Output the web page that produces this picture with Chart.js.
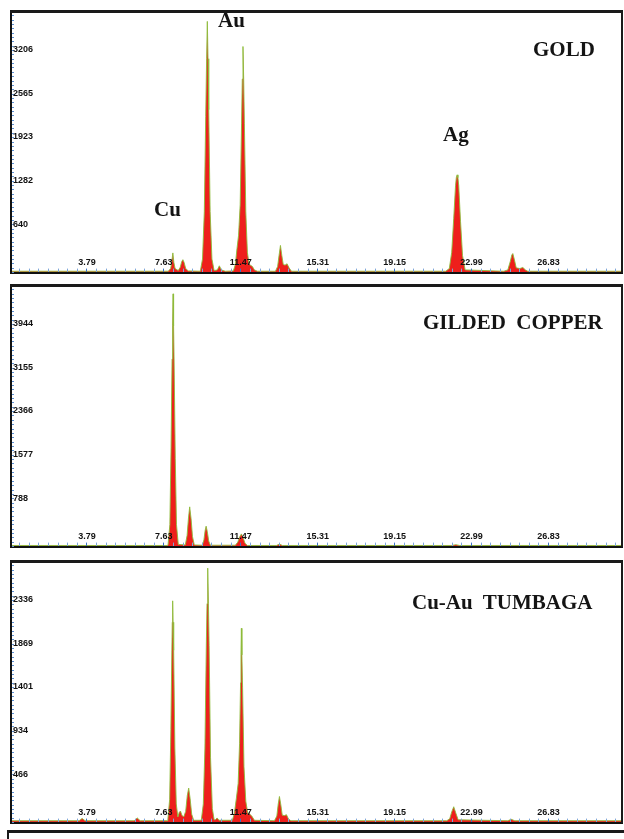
<!DOCTYPE html>
<html>
<head>
<meta charset="utf-8">
<script src="https://cdn.jsdelivr.net/npm/chart.js@4.4.1/dist/chart.umd.min.js"></script>
<style>
  body { margin: 0; background: #fff; width: 624px; height: 839px; overflow: hidden; position: relative; }
  canvas { position: absolute; left: 0; }
  .lbl { position: absolute; font-family: 'Liberation Serif', 'Times New Roman', serif; font-weight: bold;
         font-size: 21px; line-height: 1; color: #141414; white-space: pre; }
  #next { position: absolute; left: 7px; top: 830px; width: 640px; height: 20px;
          border-top: 3px solid #1a1a1a; border-left: 2px solid #1a1a1a; }
</style>
</head>
<body>
<canvas id="gold" width="624" height="276" style="top:4px"></canvas>
<canvas id="gilded" width="624" height="276" style="top:278px"></canvas>
<canvas id="tumbaga" width="624" height="276" style="top:554px"></canvas>
<div id="next"></div>

<div class="lbl" style="left:218px; top:10px">Au</div>
<div class="lbl" style="left:154px; top:199px">Cu</div>
<div class="lbl" style="left:443px; top:124px">Ag</div>
<div class="lbl" style="left:533px; top:39px">GOLD</div>
<div class="lbl" style="left:423px; top:312px">GILDED  COPPER</div>
<div class="lbl" style="left:412px; top:592px">Cu-Au  TUMBAGA</div>

<script>
'use strict';

// energy axis (keV) and count labels as printed on the spectra
const xTickLabels = ['3.79', '7.63', '11.47', '15.31', '19.15', '22.99', '26.83'];
const X_MAX = 30.5;

const goldYLabels = ['640', '1282', '1923', '2565', '3206'];
const gildedYLabels = ['788', '1577', '2366', '3155', '3944'];
const tumbagaYLabels = ['466', '934', '1401', '1869', '2336'];

// [energy, counts]
const goldSpectrum = [
    [0, 20], [7.7, 20],
    [7.85, 20], [7.97, 60], [8.02, 150], [8.08, 290], [8.13, 150], [8.19, 60],
    [8.35, 30], [8.45, 80], [8.52, 160], [8.58, 190], [8.64, 150], [8.72, 60], [8.85, 25],
    [9.45, 20], [9.56, 200], [9.65, 900], [9.72, 2300], [9.765, 3150], [9.8, 3700], [9.835, 3150], [9.87, 2400], [9.94, 900], [10.03, 200], [10.14, 30],
    [10.3, 40], [10.4, 100], [10.5, 40], [10.7, 20],
    [11.1, 25], [11.2, 120], [11.28, 350], [11.36, 550], [11.44, 1000], [11.51, 2200], [11.545, 2850], [11.58, 3330], [11.615, 2850], [11.65, 2200], [11.72, 900], [11.8, 300], [11.88, 130],
    [11.95, 110], [12.05, 90], [12.15, 40], [12.3, 20],
    [13.2, 20], [13.31, 90], [13.38, 250], [13.45, 400], [13.52, 250], [13.59, 120],
    [13.68, 110], [13.78, 130], [13.88, 70], [14.0, 20],
    [21.7, 20],
    [21.88, 60], [22.0, 300], [22.1, 800], [22.19, 1280], [22.23, 1400], [22.27, 1440], [22.31, 1400], [22.35, 1280], [22.44, 750], [22.54, 250], [22.67, 40],
    [24.6, 20],
    [24.8, 40], [24.92, 160], [25.0, 260], [25.05, 280], [25.12, 200], [25.22, 70],
    [25.4, 60], [25.55, 75], [25.68, 40], [25.8, 20],
    [30.5, 20]
];

const gildedSpectrum = [
    [0, 20], [7.8, 20],
    [7.84, 30], [7.93, 400], [7.99, 1800], [8.04, 3400], [8.065, 4000], [8.09, 4580], [8.115, 4000], [8.14, 3400], [8.2, 1600], [8.26, 400], [8.35, 40],
    [8.7, 30], [8.79, 200], [8.86, 520], [8.92, 720], [8.99, 500], [9.06, 180], [9.15, 30],
    [9.55, 25], [9.63, 120], [9.69, 290], [9.74, 370], [9.8, 270], [9.87, 100], [9.95, 25],
    [11.2, 25], [11.32, 80], [11.42, 180], [11.5, 230], [11.58, 170], [11.68, 60], [11.8, 20],
    [13.25, 20], [13.4, 45], [13.55, 20],
    [22.0, 20], [22.2, 35], [22.4, 20],
    [30.5, 20]
];

const tumbagaSpectrum = [
    [0, 20], [3.4, 20], [3.55, 45], [3.7, 20], [6.15, 20], [6.3, 50], [6.45, 20], [7.8, 20],
    [7.83, 30], [7.92, 250], [7.98, 1000], [8.03, 1850], [8.05, 2150], [8.07, 2380], [8.09, 2150], [8.12, 1850], [8.18, 800], [8.25, 200], [8.33, 60],
    [8.4, 110], [8.46, 124], [8.53, 80], [8.62, 60],
    [8.72, 120], [8.8, 290], [8.87, 370], [8.94, 260], [9.02, 90], [9.12, 25],
    [9.5, 25], [9.6, 200], [9.68, 800], [9.75, 1900], [9.785, 2350], [9.82, 2731], [9.855, 2350], [9.89, 1900], [9.96, 700], [10.05, 150], [10.14, 30],
    [10.2, 30], [10.29, 50], [10.38, 25],
    [11.05, 25], [11.15, 100], [11.25, 260], [11.34, 420], [11.41, 850], [11.46, 1500], [11.48, 1800], [11.5, 2085], [11.525, 1800], [11.56, 1450], [11.63, 600], [11.72, 230], [11.82, 100],
    [11.92, 90], [12.02, 70], [12.15, 25],
    [13.15, 20], [13.27, 70], [13.34, 200], [13.4, 280], [13.47, 190], [13.54, 80],
    [13.65, 75], [13.75, 85], [13.85, 40], [13.97, 20],
    [21.75, 20],
    [21.9, 40], [22.0, 115], [22.1, 170], [22.2, 105], [22.32, 30],
    [24.8, 20], [24.97, 35], [25.15, 20],
    [30.5, 20]
];

const tickFont = { family: "'Liberation Sans', Arial, sans-serif", size: 9, weight: 'bold' };
const zeroHeight = s => { s.height = 0; };
const zeroWidth = s => { s.width = 0; };

function majorIndex(v) {
    return xTickLabels.findIndex(l => Math.abs(Number(l) - v) < 0.01);
}

function renderPanel(id, spectrum, yLabels) {
    const yStep = Number(yLabels[4]) / 5;
    const xMajor = xTickLabels.map(Number);
    const xMinor = (xMajor[1] - xMajor[0]) / 8;

    new Chart(document.getElementById(id), {
        type: 'line',
        data: {
            datasets: [{
                data: spectrum.map(p => ({ x: p[0], y: p[1] })),
                borderColor: '#8dbb3a',
                borderWidth: 0.9,
                backgroundColor: '#ee1f1c',
                fill: 'origin',
                pointRadius: 0,
                tension: 0
            }]
        },
        options: {
            responsive: false,
            animation: false,
            events: [],
            layout: { padding: { left: 11, right: 2, top: 6, bottom: 6 } },
            plugins: { legend: { display: false }, tooltip: { enabled: false } },
            scales: {
                x: {
                    type: 'linear', position: 'bottom', min: 0, max: X_MAX,
                    afterFit: zeroHeight,
                    afterBuildTicks: axis => {
                        const t = [];
                        for (let v = xMajor[0] - 7 * xMinor; v <= X_MAX; v += xMinor) t.push({ value: +v.toFixed(3) });
                        axis.ticks = t;
                    },
                    border: { color: '#111', width: 2, z: 1 },
                    grid: {
                        z: 1, drawOnChartArea: false, tickLength: -4, tickWidth: 1,
                        tickColor: ctx => majorIndex(ctx.tick.value) >= 0 ? '#3d74c4' : '#7ea6da'
                    },
                    ticks: {
                        z: 1, mirror: true, padding: 5, autoSkip: false, maxRotation: 0,
                        font: tickFont, color: '#111',
                        callback: v => { const i = majorIndex(v); return i >= 0 ? xTickLabels[i] : ''; }
                    }
                },
                y: {
                    type: 'linear', position: 'left', min: 0, max: 6 * yStep,
                    afterFit: zeroWidth,
                    afterBuildTicks: axis => {
                        const t = [];
                        for (let k = 0; k <= 60; k++) t.push({ value: k * yStep / 10 });
                        axis.ticks = t;
                    },
                    border: { color: '#111', width: 2, z: 1 },
                    grid: { z: 1, drawOnChartArea: false, tickLength: -3, tickWidth: 1, tickColor: '#5b8fd2' },
                    ticks: {
                        z: 1, mirror: true, padding: 2, labelOffset: -5, autoSkip: false,
                        font: tickFont, color: '#111',
                        callback: (v, i) => (i % 10 === 0 && i >= 10 && i <= 50) ? yLabels[i / 10 - 1] : ''
                    }
                },
                xTop: {
                    type: 'linear', position: 'top', min: 0, max: 1,
                    afterFit: zeroHeight,
                    border: { color: '#1a1a1a', width: 3, z: 1 },
                    grid: { drawOnChartArea: false, drawTicks: false },
                    ticks: { display: false }
                },
                yRight: {
                    type: 'linear', position: 'right', min: 0, max: 1,
                    afterFit: zeroWidth,
                    border: { color: '#1a1a1a', width: 2, z: 1 },
                    grid: { drawOnChartArea: false, drawTicks: false },
                    ticks: { display: false }
                }
            }
        }
    });
}

renderPanel('gold', goldSpectrum, goldYLabels);
renderPanel('gilded', gildedSpectrum, gildedYLabels);
renderPanel('tumbaga', tumbagaSpectrum, tumbagaYLabels);
</script>
</body>
</html>
